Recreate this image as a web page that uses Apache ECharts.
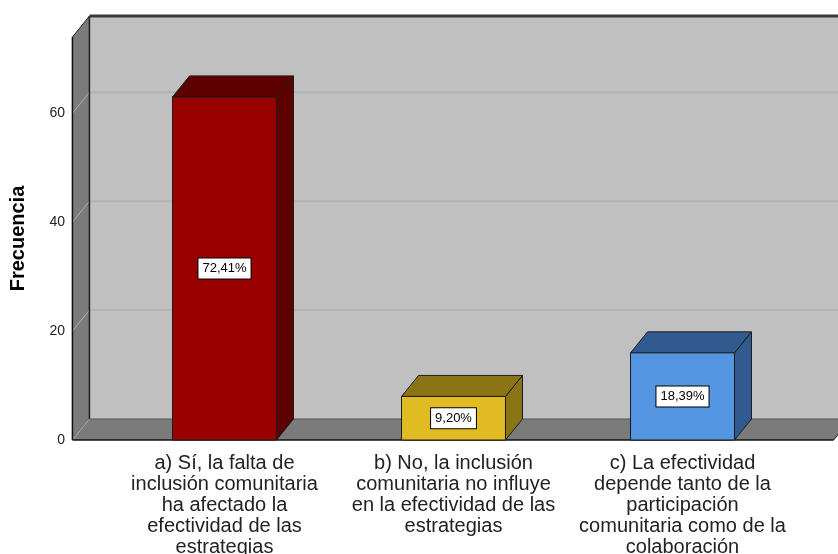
<!DOCTYPE html>
<html>
<head>
<meta charset="utf-8">
<script src="https://cdn.jsdelivr.net/npm/echarts@6/dist/echarts.min.js"></script>
<style>
  html, body { margin: 0; padding: 0; background: #fff; }
  #chart { width: 838px; height: 554px; }
</style>
</head>
<body>
<div id="chart"></div>
<script>
// data (n = 87)
const categories = [
  'a) Sí, la falta de\ninclusión comunitaria\nha afectado la\nefectividad de las\nestrategias',
  'b) No, la inclusión\ncomunitaria no influye\nen la efectividad de las\nestrategias',
  'c) La efectividad\ndepende tanto de la\nparticipación\ncomunitaria como de la\ncolaboración'
]
const frequencies = [63, 8, 16]
const percentLabels = ['72,41%', '9,20%', '18,39%']
const yTicks = [0, 20, 40, 60]

const frontColors = ['#990000', '#e0bb22', '#5596e2']
const shadeColors = ['#5c0000', '#8a7416', '#315b8f']
const DX = 17
const DY = -21
const FONT = '"Liberation Sans", Arial, sans-serif'

const chart = echarts.init(document.getElementById('chart'))

const renderWalls = (params, api) => {
  const band = api.size([1, 0])[0]
  const xl = api.coord([0, 0])[0] - band * 0.664
  const xr = api.coord([categories.length - 1, 0])[0] + band * 0.66
  const y0 = api.coord([0, 0])[1]
  const yTop = params.coordSys.y
  const children = [
    // back wall
    { type: 'polygon', shape: { points: [[xl + DX, yTop + DY], [xr + DX + 30, yTop + DY], [xr + DX + 30, y0 + DY], [xl + DX, y0 + DY]] },
      style: { fill: '#c0c0c0', stroke: null } },
    // left side wall
    { type: 'polygon', shape: { points: [[xl, yTop], [xl + DX, yTop + DY], [xl + DX, y0 + DY], [xl, y0]] },
      style: { fill: '#7b7b7b', stroke: '#222', lineWidth: 1 } },
    // floor
    { type: 'polygon', shape: { points: [[xl, y0], [xl + DX, y0 + DY], [xr + DX, y0 + DY], [xr, y0]] },
      style: { fill: '#7b7b7b', stroke: null } }
  ]
  yTicks.forEach(v => {
    const y = api.coord([0, v])[1]
    if (v > 0) {
      children.push({ type: 'line', shape: { x1: xl + DX, y1: y + DY, x2: xr + DX + 30, y2: y + DY },
        style: { stroke: '#b3b3b3', lineWidth: 2 } })
    }
    children.push({ type: 'line', shape: { x1: xl, y1: y, x2: xl + DX, y2: y + DY },
      style: { stroke: '#b0b0b0', lineWidth: 1 } })
  })
  children.push(
    { type: 'line', shape: { x1: xl + DX, y1: yTop + DY, x2: xr + DX + 30, y2: yTop + DY }, style: { stroke: '#3a3a3a', lineWidth: 3 } },
    { type: 'line', shape: { x1: xl + DX, y1: yTop + DY, x2: xl + DX, y2: y0 + DY }, style: { stroke: '#222', lineWidth: 1.5 } },
    { type: 'line', shape: { x1: xl + DX, y1: y0 + DY, x2: xr + DX, y2: y0 + DY }, style: { stroke: '#555', lineWidth: 1 } },
    { type: 'line', shape: { x1: xl, y1: yTop, x2: xl, y2: y0 }, style: { stroke: '#111', lineWidth: 1.5 } },
    { type: 'line', shape: { x1: xl, y1: y0, x2: xr, y2: y0 }, style: { stroke: '#111', lineWidth: 1.5 } },
    { type: 'line', shape: { x1: xr, y1: y0, x2: xr + DX, y2: y0 + DY }, style: { stroke: '#111', lineWidth: 1 } }
  )
  return { type: 'group', children }
}

const renderBar = (params, api) => {
  const i = api.value(0)
  const [cx, yv] = api.coord([i, api.value(1)])
  const y0 = api.coord([i, 0])[1]
  const hw = api.size([1, 0])[0] * 0.227
  const x1 = cx - hw
  const x2 = cx + hw
  const line = { stroke: '#1a1a1a', lineWidth: 1 }
  return {
    type: 'group',
    children: [
      { type: 'polygon', shape: { points: [[x2, yv], [x2 + DX, yv + DY], [x2 + DX, y0 + DY], [x2, y0]] },
        style: Object.assign({ fill: shadeColors[i] }, line) },
      { type: 'polygon', shape: { points: [[x1, yv], [x1 + DX, yv + DY], [x2 + DX, yv + DY], [x2, yv]] },
        style: Object.assign({ fill: shadeColors[i] }, line) },
      { type: 'rect', shape: { x: x1, y: yv, width: x2 - x1, height: y0 - yv },
        style: Object.assign({ fill: frontColors[i] }, line) },
      { type: 'text', x: cx, y: (yv + y0) / 2,
        style: {
          text: percentLabels[i], fill: '#000', font: '13px ' + FONT,
          align: 'center', verticalAlign: 'middle',
          backgroundColor: '#fff', borderColor: '#000', borderWidth: 1, padding: [4, 4, 3, 4]
        } }
    ]
  }
}

chart.setOption({
  animation: false,
  grid: { left: 110, right: 41, top: 37, bottom: 114, outerBoundsMode: 'none', containLabel: false },
  xAxis: {
    type: 'category',
    data: categories,
    axisLine: { show: false },
    axisTick: { show: false },
    axisLabel: { color: '#222', fontSize: 20, fontFamily: FONT, lineHeight: 21, margin: 13, interval: 0, hideOverlap: false }
  },
  yAxis: {
    type: 'value',
    min: 0,
    max: 74,
    interval: 20,
    name: 'Frecuencia',
    nameLocation: 'middle',
    nameRotate: 90,
    nameGap: 82,
    nameTextStyle: { color: '#000', fontSize: 20, fontWeight: 'bold', fontFamily: FONT },
    axisLine: { show: false },
    axisTick: { show: false },
    splitLine: { show: false },
    axisLabel: { color: '#222', fontSize: 14, fontFamily: FONT, margin: 45, showMaxLabel: false }
  },
  series: [
    { type: 'custom', z: 1, renderItem: renderWalls, data: [[0, 0]], silent: true },
    { type: 'custom', z: 2, renderItem: renderBar, data: frequencies.map((v, i) => [i, v]) }
  ]
})
</script>
</body>
</html>
